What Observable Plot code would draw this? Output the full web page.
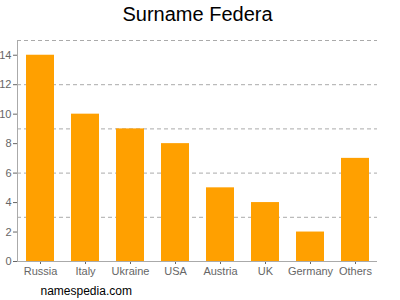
<!DOCTYPE html>
<html><head><meta charset="utf-8">
<script src="https://cdn.jsdelivr.net/npm/d3@7"></script>
<script src="https://cdn.jsdelivr.net/npm/@observablehq/plot@0.6"></script>
<style>body{margin:0;background:#fff}svg{display:block}</style>
</head><body><div id="chart"></div>
<script>
const countries = ["Russia","Italy","Ukraine","USA","Austria","UK","Germany","Others"];
const counts = [14,10,9,8,5,4,2,7];
const yTicks = [0,2,4,6,8,10,12,14];
const gridValues = [3,6,9,12,15];
const titleText = "Surname Federa";
const footerText = "namespedia.com";

const data = countries.map((c,i)=>({country:c, count:counts[i]}));

const chart = Plot.plot({
  width: 400, height: 300,
  marginTop: 40, marginBottom: 39, marginLeft: 17, marginRight: 23,
  style: {fontFamily: "Liberation Sans, Arial, sans-serif", fontSize: "11px", color: "#666", background: "#fff"},
  x: {domain: countries, paddingInner: 0.38, paddingOuter: 0.19, label: null, tickSize: 3, tickPadding: 3},
  y: {domain: [0,15], ticks: yTicks, label: null, tickSize: 4, tickPadding: 2},
  marks: [
    Plot.ruleY(gridValues, {stroke: "#aaa", strokeDasharray: "4,3", strokeWidth: 1}),
    Plot.barY(data, {x: "country", y: "count", fill: "#ffa000"}),
    Plot.ruleY([0], {stroke: "#aaa"}),
    Plot.text([titleText], {frameAnchor: "top", dy: -26, text: d=>d, fontSize: 20, fill: "#000", lineAnchor: "middle"}),
    Plot.text([footerText], {frameAnchor: "bottom-left", dx: 23, dy: 30, text: d=>d, fontSize: 12, fill: "#000", textAnchor: "start", lineAnchor: "middle"})
  ]
});
document.getElementById("chart").appendChild(chart);
// vertical axis line drawn from the plot's own scales
const ys = chart.scale("y"), xs = chart.scale("x");
d3.select(chart).append("line")
  .attr("x1", xs.range[0]+0.5).attr("x2", xs.range[0]+0.5)
  .attr("y1", ys.range[0]).attr("y2", ys.range[1])
  .attr("stroke", "#aaa");
</script></body></html>
